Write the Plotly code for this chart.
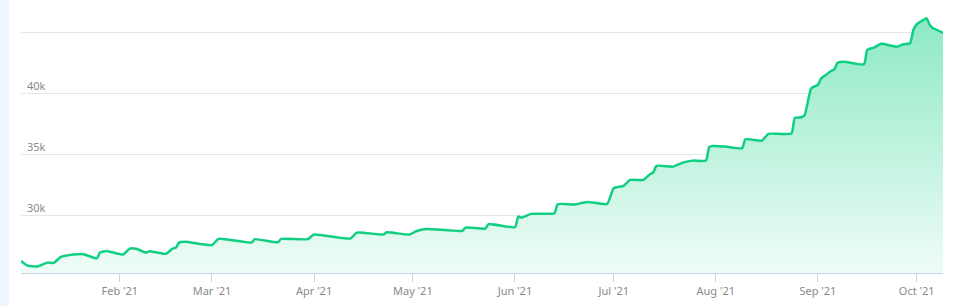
import plotly.graph_objects as go

dates = [
    "2021-01-02", "2021-01-04", "2021-01-07", "2021-01-10", "2021-01-12", "2021-01-14",
    "2021-01-18", "2021-01-21", "2021-01-25", "2021-01-26", "2021-01-28", "2021-02-02",
    "2021-02-04", "2021-02-06", "2021-02-09", "2021-02-10", "2021-02-15", "2021-02-17",
    "2021-02-18", "2021-02-19", "2021-02-21", "2021-03-01", "2021-03-03", "2021-03-13",
    "2021-03-14", "2021-03-21", "2021-03-22", "2021-03-30", "2021-04-01", "2021-04-12",
    "2021-04-14", "2021-04-22", "2021-04-23", "2021-04-30", "2021-05-02", "2021-05-05",
    "2021-05-16", "2021-05-17", "2021-05-23", "2021-05-24", "2021-06-01", "2021-06-02",
    "2021-06-03", "2021-06-06", "2021-06-13", "2021-06-14", "2021-06-19", "2021-06-23",
    "2021-06-29", "2021-07-01", "2021-07-04", "2021-07-06", "2021-07-10", "2021-07-12",
    "2021-07-13", "2021-07-14", "2021-07-19", "2021-07-22", "2021-07-25", "2021-07-29",
    "2021-07-30", "2021-07-31", "2021-08-04", "2021-08-09", "2021-08-10", "2021-08-15",
    "2021-08-17", "2021-08-20", "2021-08-24", "2021-08-25", "2021-08-27", "2021-08-28",
    "2021-08-30", "2021-09-01", "2021-09-02", "2021-09-03", "2021-09-05", "2021-09-06",
    "2021-09-07", "2021-09-09", "2021-09-15", "2021-09-16", "2021-09-18", "2021-09-20",
    "2021-09-21", "2021-09-25", "2021-09-27", "2021-09-29", "2021-09-30", "2021-10-01",
    "2021-10-03", "2021-10-04", "2021-10-05", "2021-10-06", "2021-10-09",
]

values = [
    26290, 25910, 25830, 26150, 26130, 26600,
    26810, 26840, 26500, 26970, 27110, 26810,
    27300, 27280, 26970, 27090, 26870, 27300,
    27360, 27790, 27850, 27590, 28090, 27790,
    28070, 27820, 28090, 28070, 28450, 28120,
    28610, 28450, 28630, 28450, 28720, 28910,
    28750, 29020, 28940, 29300, 29050, 29920,
    29840, 30140, 30200, 30930, 30900, 31120,
    30960, 32240, 32430, 32920, 32920, 33390,
    33520, 34070, 34010, 34340, 34500, 34500,
    35600, 35700, 35650, 35520, 36250, 36140,
    36690, 36690, 36730, 38000, 38050, 38240,
    40430, 40700, 41240, 41430, 41840, 41980,
    42520, 42600, 42390, 43560, 43750, 44050,
    44050, 43830, 44030, 44110, 45200, 45660,
    46010, 46150, 45600, 45330, 44970,
]

y_tick_vals = [30000, 35000, 40000, 45000]
y_tick_text = ["30k", "35k", "40k", ""]

y_min, y_max = 25300, 47650

fig = go.Figure()
fig.add_trace(go.Scatter(
    x=dates, y=values,
    mode="lines",
    line=dict(color="#0fcf82", width=2.5, shape="spline", smoothing=0.5),
    fill="tozeroy",
    fillgradient=dict(
        type="vertical",
        start=y_min, stop=max(values),
        colorscale=[[0, "#effcf7"], [1, "#8de9c5"]],
    ),
    hoverinfo="skip",
))

fig.update_layout(
    width=961, height=306,
    margin=dict(l=21, r=18, t=0, b=33),
    paper_bgcolor="white", plot_bgcolor="white",
    showlegend=False,
    font=dict(family="Noto Sans, Lato, sans-serif", size=11, color="#8a8a8a"),
    shapes=[dict(type="rect", xref="paper", yref="paper",
                 x0=-21 / 922, x1=-12 / 922, y0=-33 / 273, y1=1,
                 fillcolor="#eef5fe", line=dict(width=0), layer="below")],
)

fig.update_xaxes(
    range=[dates[0], dates[-1]],
    tickformat="%b '%y", dtick="M1", tick0="2021-02-01",
    ticks="outside", ticklen=8, tickwidth=1, tickcolor="#cbd2e6",
    showline=True, linecolor="#cbd2e6", linewidth=1,
    showgrid=False, zeroline=False,
    tickfont=dict(size=11, color="#8a8a8a"),
)
fig.update_yaxes(
    range=[y_min, y_max],
    tickvals=y_tick_vals, ticktext=y_tick_text,
    ticklabelposition="inside top",
    ticklabelstandoff=3,
    showgrid=True, gridcolor="#e6e6e6", gridwidth=1,
    zeroline=False, showline=False, ticks="",
    tickfont=dict(size=11, color="#8a8a8a"),
)

fig.write_html("out.html")
